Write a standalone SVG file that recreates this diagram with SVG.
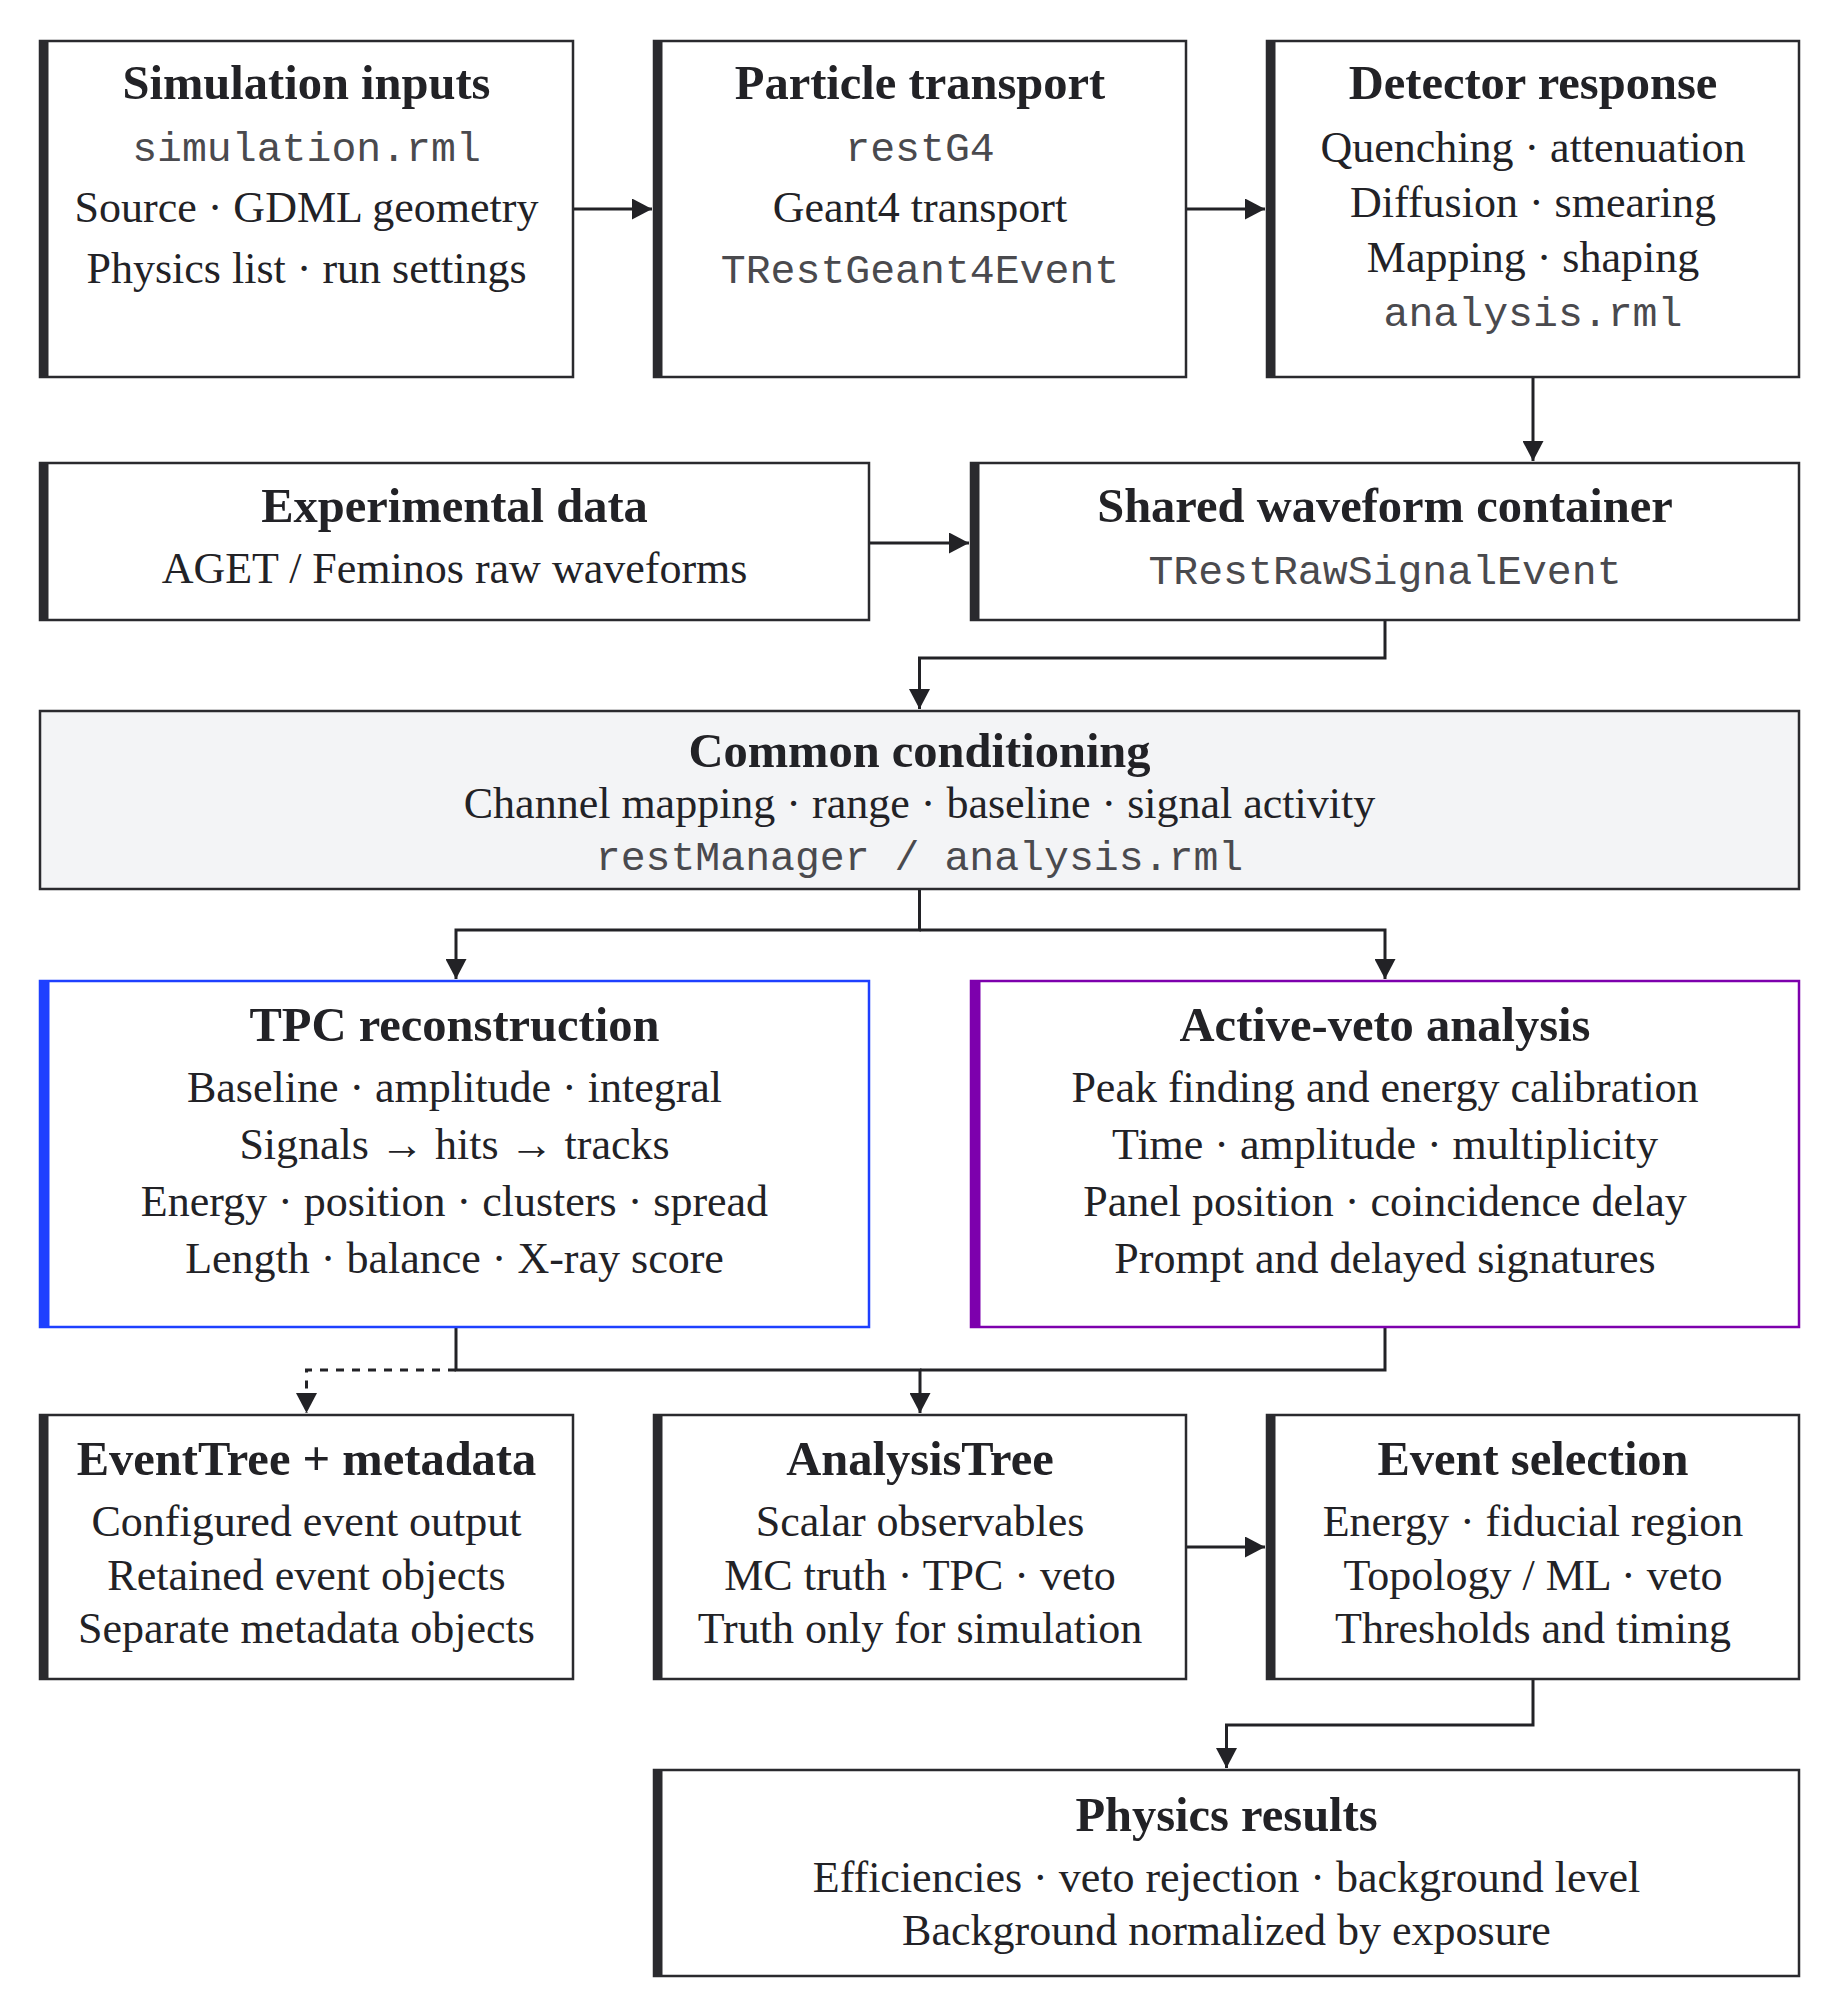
<svg xmlns="http://www.w3.org/2000/svg" width="1841" height="2000" viewBox="0 0 1841 2000">
<style>
.box{fill:#ffffff;stroke:#2a2a2e;stroke-width:2.5}
.gray{fill:#f3f4f6}
.bar{fill:#2a2a2e}
.t{font-family:"Liberation Serif","Times New Roman",serif;font-weight:bold;font-size:48.5px;fill:#222226;text-anchor:middle}
.b{font-family:"Liberation Serif","Times New Roman",serif;font-size:44px;fill:#222226;text-anchor:middle}
.m{font-family:"Liberation Mono","Courier New",monospace;font-size:41.5px;fill:#4a4a4e;text-anchor:middle}
.c{fill:none;stroke:#222226;stroke-width:3}
.d{stroke-dasharray:8 8}
</style>
<defs>
<marker id="ah" markerUnits="userSpaceOnUse" markerWidth="20" markerHeight="21" refX="20" refY="10.5" orient="auto">
<path d="M0,0 L20,10.5 L0,21 z" fill="#222226"/>
</marker>
</defs>
<rect width="1841" height="2000" fill="#ffffff"/>

<g id="connectors">
<path class="c" d="M573,209 L652,209" marker-end="url(#ah)"/>
<path class="c" d="M1186,209 L1265,209" marker-end="url(#ah)"/>
<path class="c" d="M1533,377 L1533,461" marker-end="url(#ah)"/>
<path class="c" d="M869,543 L969,543" marker-end="url(#ah)"/>
<path class="c" d="M1385,620 L1385,658 L919.5,658 L919.5,709" marker-end="url(#ah)"/>
<path class="c" d="M919.5,889 L919.5,930 L456,930 L456,979" marker-end="url(#ah)"/>
<path class="c" d="M919.5,930 L1385,930 L1385,979" marker-end="url(#ah)"/>
<path class="c d" d="M456,1370 L306.5,1370 L306.5,1413" marker-end="url(#ah)"/>
<path class="c" d="M456,1327 L456,1370 L920,1370 L920,1413" marker-end="url(#ah)"/>
<path class="c" d="M1385,1327 L1385,1370 L920,1370"/>
<path class="c" d="M1186,1547 L1265,1547" marker-end="url(#ah)"/>
<path class="c" d="M1533,1679 L1533,1725 L1226.5,1725 L1226.5,1768" marker-end="url(#ah)"/>
</g>

<g id="sim-inputs">
<rect class="box" x="40" y="41" width="533" height="336"/>
<rect class="bar" x="40" y="41" width="8.5" height="336"/>
<text class="t" x="306.5" y="99">Simulation inputs</text>
<text class="m" x="306.5" y="160.5">simulation.rml</text>
<text class="b" x="306.5" y="221.5">Source · GDML geometry</text>
<text class="b" x="306.5" y="283">Physics list · run settings</text>
</g>

<g id="particle-transport">
<rect class="box" x="654" y="41" width="532" height="336"/>
<rect class="bar" x="654" y="41" width="8.5" height="336"/>
<text class="t" x="920" y="99">Particle transport</text>
<text class="m" x="920" y="160.5">restG4</text>
<text class="b" x="920" y="221.5">Geant4 transport</text>
<text class="m" x="920" y="283">TRestGeant4Event</text>
</g>

<g id="detector-response">
<rect class="box" x="1267" y="41" width="532" height="336"/>
<rect class="bar" x="1267" y="41" width="8.5" height="336"/>
<text class="t" x="1533" y="99">Detector response</text>
<text class="b" x="1533" y="161.5">Quenching · attenuation</text>
<text class="b" x="1533" y="216.5">Diffusion · smearing</text>
<text class="b" x="1533" y="271.5">Mapping · shaping</text>
<text class="m" x="1533" y="326">analysis.rml</text>
</g>

<g id="experimental-data">
<rect class="box" x="40" y="463" width="829" height="157"/>
<rect class="bar" x="40" y="463" width="8.5" height="157"/>
<text class="t" x="454.5" y="521.5">Experimental data</text>
<text class="b" x="454.5" y="583">AGET / Feminos raw waveforms</text>
</g>

<g id="shared-container">
<rect class="box" x="971" y="463" width="828" height="157"/>
<rect class="bar" x="971" y="463" width="8.5" height="157"/>
<text class="t" x="1385" y="521.5">Shared waveform container</text>
<text class="m" x="1385" y="584">TRestRawSignalEvent</text>
</g>

<g id="common-conditioning">
<rect class="box gray" x="40" y="711" width="1759" height="178"/>
<text class="t" x="919.5" y="767">Common conditioning</text>
<text class="b" x="919.5" y="818">Channel mapping · range · baseline · signal activity</text>
<text class="m" x="919.5" y="870">restManager / analysis.rml</text>
</g>

<g id="tpc-reconstruction">
<rect class="box" x="40" y="981" width="829" height="346" style="stroke:#1e40ff"/>
<rect x="40" y="981" width="9.5" height="346" fill="#1e40ff"/>
<text class="t" x="454.5" y="1040.5">TPC reconstruction</text>
<text class="b" x="454.5" y="1101.5">Baseline · amplitude · integral</text>
<text class="b" x="454.5" y="1159">Signals → hits → tracks</text>
<text class="b" x="454.5" y="1216">Energy · position · clusters · spread</text>
<text class="b" x="454.5" y="1272.5">Length · balance · X-ray score</text>
</g>

<g id="active-veto">
<rect class="box" x="971" y="981" width="828" height="346" style="stroke:#7d00ad"/>
<rect x="971" y="981" width="9.5" height="346" fill="#7d00ad"/>
<text class="t" x="1385" y="1040.5">Active-veto analysis</text>
<text class="b" x="1385" y="1101.5">Peak finding and energy calibration</text>
<text class="b" x="1385" y="1159">Time · amplitude · multiplicity</text>
<text class="b" x="1385" y="1216">Panel position · coincidence delay</text>
<text class="b" x="1385" y="1272.5">Prompt and delayed signatures</text>
</g>

<g id="eventtree">
<rect class="box" x="40" y="1415" width="533" height="264"/>
<rect class="bar" x="40" y="1415" width="8.5" height="264"/>
<text class="t" x="306.5" y="1475">EventTree + metadata</text>
<text class="b" x="306.5" y="1535.5">Configured event output</text>
<text class="b" x="306.5" y="1589.5">Retained event objects</text>
<text class="b" x="306.5" y="1643">Separate metadata objects</text>
</g>

<g id="analysistree">
<rect class="box" x="654" y="1415" width="532" height="264"/>
<rect class="bar" x="654" y="1415" width="8.5" height="264"/>
<text class="t" x="920" y="1475">AnalysisTree</text>
<text class="b" x="920" y="1535.5">Scalar observables</text>
<text class="b" x="920" y="1589.5">MC truth · TPC · veto</text>
<text class="b" x="920" y="1643">Truth only for simulation</text>
</g>

<g id="event-selection">
<rect class="box" x="1267" y="1415" width="532" height="264"/>
<rect class="bar" x="1267" y="1415" width="8.5" height="264"/>
<text class="t" x="1533" y="1475">Event selection</text>
<text class="b" x="1533" y="1535.5">Energy · fiducial region</text>
<text class="b" x="1533" y="1589.5">Topology / ML · veto</text>
<text class="b" x="1533" y="1643">Thresholds and timing</text>
</g>

<g id="physics-results">
<rect class="box" x="654" y="1770" width="1145" height="206"/>
<rect class="bar" x="654" y="1770" width="8.5" height="206"/>
<text class="t" x="1226.5" y="1831">Physics results</text>
<text class="b" x="1226.5" y="1892">Efficiencies · veto rejection · background level</text>
<text class="b" x="1226.5" y="1945">Background normalized by exposure</text>
</g>
</svg>
